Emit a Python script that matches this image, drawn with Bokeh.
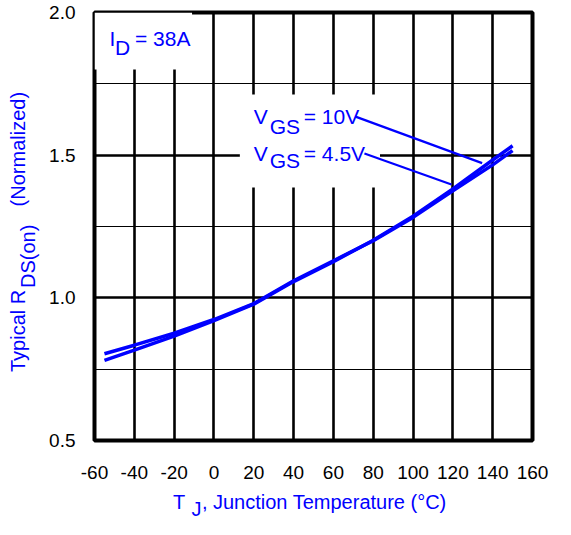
from bokeh.plotting import figure
from bokeh.models import Range1d, FixedTicker, Grid, Label, PrintfTickFormatter
from bokeh.embed import file_html
from bokeh.resources import INLINE
import math

# ---- data ----
temps = [-55, -40, -20, 0, 20, 40, 60, 80, 100, 120, 140, 150]
rds_vgs10 = [0.781, 0.817, 0.866, 0.920, 0.978, 1.057, 1.127, 1.202, 1.286, 1.382, 1.483, 1.533]
rds_vgs45 = [0.804, 0.834, 0.876, 0.924, 0.980, 1.060, 1.130, 1.200, 1.282, 1.375, 1.466, 1.516]

x_ticks = [-60, -40, -20, 0, 20, 40, 60, 80, 100, 120, 140, 160]
x_tick_labels = ["-60", "-40", "-20", "0", "20", "40", "60", "80", "100", "120", "140", "160"]
y_ticks = [0.5, 1.0, 1.5, 2.0]
y_minor = [0.75, 1.25, 1.75]

FONT = "Liberation Sans"
BLUE = "#0000FF"
NB = "\u00a0"

p = figure(width=555, height=519,
           x_range=Range1d(-60, 160), y_range=Range1d(0.5, 2.0),
           output_backend="svg", toolbar_location=None,
           min_border_left=94, min_border_right=23,
           min_border_top=12, min_border_bottom=79)

p.background_fill_color = "white"
p.border_fill_color = "white"
p.outline_line_color = "black"
p.outline_line_width = 4

# grids
p.xgrid.ticker = FixedTicker(ticks=x_ticks)
p.xgrid.grid_line_color = "black"
p.xgrid.grid_line_width = 2.6
p.ygrid.ticker = FixedTicker(ticks=y_ticks)
p.ygrid.grid_line_color = "black"
p.ygrid.grid_line_width = 2.6
p.add_layout(Grid(dimension=1, ticker=FixedTicker(ticks=y_minor),
                  grid_line_color="black", grid_line_width=1.2))

# axes
for ax in (p.xaxis[0], p.yaxis[0]):
    ax.axis_line_color = None
    ax.major_tick_line_color = None
    ax.minor_tick_line_color = None
    ax.major_tick_out = 0
    ax.major_tick_in = 0
    ax.minor_tick_out = 0
    ax.minor_tick_in = 0
    ax.major_label_text_font = FONT
    ax.major_label_text_font_size = "19px"
    ax.major_label_text_color = "black"
p.xaxis.ticker = FixedTicker(ticks=x_ticks)
p.xaxis.major_label_overrides = dict(zip(x_ticks, x_tick_labels))
p.yaxis.ticker = FixedTicker(ticks=y_ticks)
p.yaxis.formatter = PrintfTickFormatter(format="%.1f")
p.xaxis.major_label_standoff = 25
p.yaxis.major_label_standoff = 19

# white boxes behind annotation text
p.quad(left=[-60, 13], right=[-11, 83.4], bottom=[1.80, 1.387], top=[2.0, 1.713],
       fill_color="white", line_color=None)

# curves
p.line(temps, rds_vgs10, line_color=BLUE, line_width=3.5)
p.line(temps, rds_vgs45, line_color=BLUE, line_width=3.5)

# leader lines
p.segment(x0=[71.1, 75.6], y0=[1.635, 1.506], x1=[134.7, 119.3], y1=[1.472, 1.397],
          line_color=BLUE, line_width=2.2)


def lab(text, x, y, dx=0, dy=0, angle=0.0, size="21px", place=None):
    lbl = Label(x=x, y=y, x_offset=dx, y_offset=dy, text=text,
                text_font=FONT, text_font_size=size, text_color=BLUE,
                text_align="left", text_baseline="alphabetic", angle=angle)
    if place is None:
        p.add_layout(lbl)
    else:
        p.add_layout(lbl, place)


# I_D = 38A
lab("I", -60, 2.0, 15, -26)
lab("D", -60, 2.0, 20.5, -35)
lab("= 38A", -60, 2.0, 40.5, -26)

# V_GS labels
lab("V", 20, 1.607, 0, 8)
lab("GS", 20, 1.607, 16, -2)
lab("= 10V", 20, 1.607, 50, 8)
lab("V", 20, 1.479, 0, 8)
lab("GS", 20, 1.479, 16, 1)
lab("= 4.5V", 20, 1.479, 50, 8)

# x axis title (in side panels so it is not clipped to the frame)
lab("T" + NB * 3 + ", Junction Temperature (°C)", -60, 0.5, 78.5, -61, size="20px", place="below")
lab("J", -60, 0.5, 97, -68, size="20px", place="right")

# y axis title (rotated)
a = math.pi / 2
lab("Typical R" + NB * 15 + "(Normalized)", -60, 0.5, -76.3, 68.5, angle=a, size="20px", place="left")
lab("DS(on)", -60, 0.5, -66.3, 152.5, angle=a, size="20px", place="left")

open("out.html", "w").write(file_html(p, INLINE))
